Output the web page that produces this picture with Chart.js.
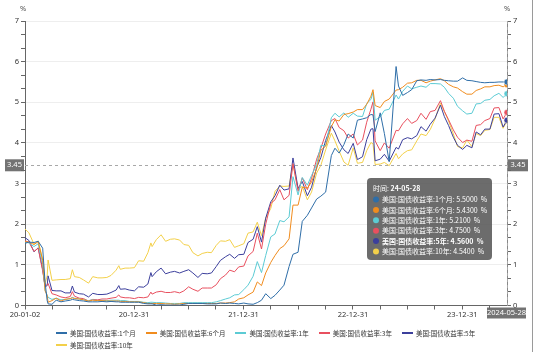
<!DOCTYPE html>
<html>
<head>
<meta charset="utf-8">
<title>美国国债收益率</title>
<script src="https://cdn.jsdelivr.net/npm/chart.js"></script>
<style>
    body {
        margin: 0;
        background-color: #ffffff;
        font-family: "Noto Sans CJK SC", "Noto Sans", sans-serif;
    }
    #wrap {
        position: relative;
        width: 550px;
        height: 360px;
    }
    #edge {
        position: absolute;
        left: 532px;
        top: 0;
        width: 1px;
        height: 352px;
        background-color: #9a9a9a;
    }
    #legend {
        position: absolute;
        left: 56px;
        top: 327px;
        width: 440px;
        display: flex;
        flex-wrap: wrap;
        column-gap: 10px;
        font-size: 6.5px;
        line-height: 12px;
        color: #333;
    }
    #legend .item {
        display: flex;
        align-items: center;
        white-space: nowrap;
    }
    #legend .swatch {
        width: 11px;
        height: 2px;
        margin-right: 3px;
    }
</style>
</head>
<body>
<div id="wrap">
    <canvas id="chart" width="550" height="360"></canvas>
    <div id="edge"></div>
    <div id="legend"></div>
</div>
<script>
var dates = [
    '2020-01-02','2020-01-15','2020-02-01','2020-02-15','2020-03-01','2020-03-09','2020-03-16','2020-03-19','2020-04-01','2020-04-15',
    '2020-05-01','2020-05-15','2020-06-01','2020-06-08','2020-06-15','2020-07-01','2020-07-15','2020-08-01','2020-08-15','2020-09-01',
    '2020-09-15','2020-10-01','2020-10-15','2020-11-01','2020-11-10','2020-11-15','2020-12-01','2020-12-15',
    '2021-01-01','2021-01-15','2021-02-01','2021-02-15','2021-02-25','2021-03-01','2021-03-15','2021-03-31','2021-04-15','2021-05-01',
    '2021-05-15','2021-06-01','2021-06-15','2021-07-01','2021-07-15','2021-08-01','2021-08-15','2021-09-01','2021-09-15','2021-10-01',
    '2021-10-15','2021-11-01','2021-11-15','2021-12-01','2021-12-15',
    '2022-01-01','2022-01-15','2022-02-01','2022-02-15','2022-03-01','2022-03-15','2022-04-01','2022-04-15','2022-05-01','2022-05-15',
    '2022-06-01','2022-06-14','2022-07-01','2022-07-15','2022-08-01','2022-08-15','2022-09-01','2022-09-15','2022-10-01','2022-10-20',
    '2022-11-01','2022-11-15','2022-12-01','2022-12-15',
    '2023-01-01','2023-01-15','2023-02-01','2023-02-15','2023-03-01','2023-03-08','2023-03-15','2023-04-01','2023-04-15','2023-05-01',
    '2023-05-24','2023-06-01','2023-06-15','2023-07-01','2023-07-15','2023-08-01','2023-08-15','2023-09-01','2023-09-15','2023-10-01',
    '2023-10-19','2023-11-01','2023-11-15','2023-12-01','2023-12-15',
    '2024-01-01','2024-01-15','2024-02-01','2024-02-15','2024-03-01','2024-03-15','2024-04-01','2024-04-15','2024-05-01','2024-05-15',
    '2024-05-28'
];

var m1 = [
    1.53,1.56,1.55,1.58,1.41,0.57,0.12,0.04,0.03,0.13,0.09,0.11,0.13,0.15,0.14,0.12,0.11,0.09,0.09,0.09,0.10,0.09,0.10,0.09,0.09,0.08,0.08,0.08,
    0.08,0.08,0.05,0.04,0.04,0.04,0.01,0.02,0.01,0.01,0.01,0.01,0.03,0.05,0.05,0.05,0.05,0.04,0.04,0.04,0.06,0.05,0.06,0.05,0.04,
    0.06,0.04,0.03,0.07,0.13,0.29,0.17,0.25,0.38,0.50,0.96,1.26,1.31,2.07,2.22,2.40,2.62,2.69,2.79,3.69,3.87,3.75,3.96,4.22,
    4.12,4.56,4.59,4.62,4.70,4.69,4.28,4.74,4.23,3.54,5.88,5.40,5.17,5.24,5.31,5.53,5.55,5.54,5.56,5.55,5.56,5.54,5.53,5.52,5.52,
    5.60,5.54,5.53,5.51,5.49,5.48,5.49,5.49,5.50,5.50,5.50
];
var m6 = [
    1.57,1.56,1.50,1.57,1.11,0.36,0.25,0.08,0.12,0.18,0.11,0.15,0.17,0.19,0.17,0.16,0.14,0.11,0.13,0.12,0.12,0.11,0.11,0.11,0.11,0.10,0.10,0.09,
    0.09,0.09,0.07,0.05,0.05,0.05,0.05,0.05,0.04,0.04,0.03,0.04,0.05,0.05,0.05,0.05,0.05,0.05,0.05,0.05,0.06,0.06,0.07,0.09,0.16,
    0.19,0.26,0.33,0.58,0.49,0.80,1.06,1.23,1.40,1.47,1.64,2.47,2.47,2.91,2.89,3.04,3.37,3.82,3.92,4.40,4.57,4.54,4.70,4.72,
    4.76,4.82,4.82,4.95,5.15,5.31,4.92,4.87,5.02,5.08,5.30,5.31,5.37,5.47,5.48,5.54,5.54,5.48,5.52,5.55,5.58,5.53,5.44,5.38,5.35,
    5.26,5.20,5.20,5.29,5.33,5.38,5.38,5.41,5.42,5.38,5.43
];
var y1 = [
    1.56,1.54,1.45,1.52,1.01,0.38,0.25,0.20,0.15,0.18,0.14,0.15,0.17,0.20,0.18,0.16,0.14,0.12,0.14,0.12,0.13,0.12,0.13,0.13,0.13,0.12,0.12,0.10,
    0.10,0.10,0.08,0.07,0.08,0.08,0.07,0.07,0.06,0.05,0.05,0.05,0.07,0.07,0.07,0.07,0.07,0.07,0.07,0.09,0.12,0.16,0.19,0.26,0.27,
    0.39,0.50,0.72,1.08,0.81,1.23,1.69,1.76,2.09,2.06,2.18,3.17,2.72,3.15,2.96,3.20,3.47,3.94,3.93,4.62,4.73,4.64,4.74,4.63,
    4.73,4.66,4.65,4.97,5.07,5.25,4.56,4.64,4.80,4.83,5.18,5.08,5.27,5.40,5.33,5.37,5.40,5.37,5.46,5.46,5.45,5.37,5.22,5.10,4.90,
    4.79,4.71,4.73,4.96,4.97,5.05,5.07,5.16,5.22,5.12,5.21
];
var y3 = [
    1.59,1.56,1.33,1.41,0.85,0.48,0.51,0.54,0.29,0.26,0.21,0.19,0.22,0.34,0.23,0.18,0.17,0.11,0.15,0.14,0.16,0.16,0.18,0.20,0.26,0.21,0.19,0.19,
    0.17,0.20,0.19,0.21,0.33,0.28,0.33,0.35,0.32,0.32,0.34,0.31,0.36,0.46,0.40,0.35,0.43,0.43,0.43,0.51,0.66,0.75,0.87,0.83,0.95,
    0.97,1.22,1.33,1.78,1.39,2.00,2.51,2.60,2.85,2.60,2.71,3.49,2.81,3.14,2.85,3.13,3.60,3.87,4.22,4.55,4.60,4.38,4.30,4.12,
    4.22,3.95,4.07,4.51,4.83,5.01,4.05,3.81,4.00,3.87,4.31,4.30,4.47,4.60,4.48,4.55,4.73,4.58,4.77,4.80,5.04,4.78,4.57,4.32,4.14,
    4.01,4.07,4.04,4.43,4.45,4.55,4.60,4.86,4.87,4.59,4.75
];
var y5 = [
    1.67,1.60,1.32,1.42,0.89,0.46,0.49,0.73,0.37,0.36,0.36,0.31,0.31,0.48,0.33,0.29,0.28,0.21,0.30,0.27,0.27,0.28,0.32,0.38,0.49,0.40,0.41,0.38,
    0.36,0.46,0.45,0.53,0.81,0.71,0.83,0.92,0.78,0.82,0.84,0.80,0.84,0.88,0.80,0.69,0.79,0.78,0.80,0.96,1.11,1.20,1.26,1.16,1.25,
    1.26,1.55,1.63,1.94,1.56,2.15,2.55,2.70,2.96,2.84,2.87,3.63,2.88,3.05,2.70,2.91,3.40,3.64,4.06,4.43,4.27,4.02,3.83,3.74,
    3.99,3.59,3.66,4.08,4.34,4.35,3.56,3.60,3.72,3.55,3.89,3.85,4.08,4.13,4.10,4.18,4.40,4.29,4.46,4.61,4.93,4.65,4.43,4.14,3.94,
    3.84,3.94,3.88,4.27,4.20,4.34,4.34,4.71,4.72,4.39,4.56
];
var y10 = [
    1.88,1.79,1.51,1.59,1.13,0.54,0.73,1.12,0.62,0.63,0.64,0.64,0.66,0.88,0.71,0.69,0.63,0.55,0.71,0.68,0.68,0.69,0.74,0.87,0.98,0.89,0.92,0.92,
    0.93,1.10,1.09,1.30,1.54,1.45,1.62,1.74,1.58,1.63,1.64,1.61,1.50,1.48,1.30,1.22,1.28,1.31,1.30,1.48,1.59,1.58,1.62,1.43,1.47,
    1.52,1.78,1.81,2.05,1.72,2.15,2.39,2.81,2.94,2.93,2.94,3.48,2.88,2.93,2.60,2.79,3.26,3.45,3.83,4.24,4.05,3.80,3.53,3.45,
    3.88,3.50,3.52,3.81,4.01,3.98,3.47,3.48,3.52,3.44,3.74,3.61,3.73,3.81,3.83,4.05,4.22,4.18,4.33,4.59,4.98,4.77,4.54,4.22,3.91,
    3.88,4.07,3.91,4.23,4.18,4.31,4.33,4.63,4.63,4.36,4.54
];

var seriesNames = ['美国:国债收益率:1个月', '美国:国债收益率:6个月', '美国:国债收益率:1年',
                   '美国:国债收益率:3年', '美国:国债收益率:5年', '美国:国债收益率:10年'];
var seriesColors = ['#2f6ea8', '#f08c1e', '#5ccbd4', '#e8505f', '#3c3f9c', '#f3d04a'];
var seriesValues = [m1, m6, y1, y3, y5, y10];

var labelDates = ['2020-01-02', '2020-12-31', '2021-12-31', '2022-12-31', '2023-12-31'];
var pointerValue = 3.45;
var tooltipTitle = '24-05-28';
var endLabel = '2024-05-28';

function dayOf(s) {
    var p = s.split('-');
    return (Date.UTC(+p[0], p[1] - 1, +p[2]) - Date.UTC(2020, 0, 2)) / 86400000;
}
function pad(n) { return n < 10 ? '0' + n : '' + n; }
function fmtDay(d) {
    var t = new Date(Date.UTC(2020, 0, 2) + d * 86400000);
    return String(t.getUTCFullYear()).slice(2) + '-' + pad(t.getUTCMonth() + 1) + '-' + pad(t.getUTCDate());
}

var lastDay = dayOf(dates[dates.length - 1]);
var labelDays = labelDates.map(dayOf);
var xTickDays = [];
labelDays.forEach(function(d) {
    [0, 91, 182, 273].forEach(function(q) {
        if (d + q < lastDay) xTickDays.push(d + q);
    });
});

var yTickVals = [];
for (var i = 0; i <= 21; i++) yTickVals.push(i / 3);
function isInt(v) { return Math.abs(v - Math.round(v)) < 1e-6; }

// legend in html
var legend = document.getElementById('legend');
seriesNames.forEach(function(name, i) {
    var item = document.createElement('div');
    item.className = 'item';
    var sw = document.createElement('span');
    sw.className = 'swatch';
    sw.style.backgroundColor = seriesColors[i];
    var tx = document.createElement('span');
    tx.innerText = name;
    item.appendChild(sw);
    item.appendChild(tx);
    legend.appendChild(item);
});

var datasets = seriesValues.map(function(vals, i) {
    return {
        label: seriesNames[i],
        data: dates.map(function(d, j) { return { x: dayOf(d), y: vals[j] }; }),
        borderColor: seriesColors[i],
        backgroundColor: seriesColors[i],
        borderWidth: 1,
        tension: 0,
        pointRadius: function(ctx) { return ctx.dataIndex === dates.length - 1 ? 3 : 0; },
        pointBorderColor: '#ffffff',
        pointBorderWidth: 0.5,
        pointHoverRadius: 0
    };
});

var overlay = {
    id: 'overlay',
    afterDraw: function(chart) {
        var c = chart.ctx;
        var a = chart.chartArea;
        var ys = chart.scales.y;
        var xs = chart.scales.x;
        var py = ys.getPixelForValue(pointerValue);
        var px = xs.getPixelForValue(lastDay);

        c.save();
        // crosshair
        c.strokeStyle = '#a8a8a8';
        c.lineWidth = 1;
        c.setLineDash([3, 3]);
        c.beginPath();
        c.moveTo(a.left, Math.round(py) + 0.5);
        c.lineTo(a.right, Math.round(py) + 0.5);
        c.moveTo(Math.round(px) + 0.5, a.top);
        c.lineTo(Math.round(px) + 0.5, a.bottom);
        c.stroke();
        c.setLineDash([]);

        // axis pointer labels
        c.font = '7.5px "Noto Sans", sans-serif';
        c.textBaseline = 'middle';
        c.textAlign = 'center';
        c.fillStyle = 'rgba(100,100,100,0.9)';
        c.fillRect(5, py - 6, 19, 12);
        c.fillRect(508, py - 6, 20, 12);
        c.fillRect(px - 20, a.bottom + 2, 39, 11);
        c.fillStyle = '#ffffff';
        c.fillText(pointerValue.toFixed(2), 14.5, py);
        c.fillText(pointerValue.toFixed(2), 518, py);
        c.fillText(endLabel, px - 0.5, a.bottom + 7.5);

        // % units
        c.fillStyle = '#555';
        c.fillText('%', 23, 9);
        c.fillText('%', 507, 9);

        // tooltip
        var tx = 367, ty = 178, tw = 125, th = 82;
        c.fillStyle = 'rgba(88,88,88,0.88)';
        c.beginPath();
        c.roundRect(tx, ty, tw, th, 4);
        c.fill();
        c.textAlign = 'left';
        c.fillStyle = '#ffffff';
        c.font = '7px "Noto Sans CJK SC", sans-serif';
        c.fillText('时间: ', tx + 6, ty + 10);
        var w0 = c.measureText('时间: ').width;
        c.font = 'bold 7px "Noto Sans CJK SC", sans-serif';
        c.fillText(tooltipTitle, tx + 6 + w0, ty + 10);
        var last = dates.length - 1;
        seriesNames.forEach(function(name, i) {
            var ly = ty + 21.5 + i * 10.4;
            c.fillStyle = seriesColors[i];
            c.beginPath();
            c.arc(tx + 9, ly, 3, 0, Math.PI * 2);
            c.fill();
            c.fillStyle = '#ffffff';
            c.font = (i === 4 ? 'bold ' : '') + '7px "Noto Sans CJK SC", sans-serif';
            c.fillText(name + ': ' + seriesValues[i][last].toFixed(4) + '  %', tx + 15, ly);
        });
        c.restore();
    }
};

var tickFont = { size: 7.5, family: '"Noto Sans", sans-serif' };

new Chart(document.getElementById('chart').getContext('2d'), {
    type: 'line',
    data: { datasets: datasets },
    options: {
        responsive: false,
        animation: false,
        layout: { padding: { top: 21, bottom: 36.5, left: 0, right: 0 } },
        plugins: {
            legend: { display: false },
            tooltip: { enabled: false }
        },
        scales: {
            x: {
                type: 'linear',
                min: 0,
                max: lastDay,
                afterBuildTicks: function(scale) {
                    scale.ticks = xTickDays.map(function(v) { return { value: v }; });
                },
                afterFit: function(scale) { scale.height = 18; },
                ticks: {
                    autoSkip: false,
                    maxRotation: 0,
                    padding: 1,
                    color: '#333',
                    font: tickFont,
                    callback: function(v) { return labelDays.indexOf(v) >= 0 ? fmtDay(v) : ''; }
                },
                grid: { drawOnChartArea: false, tickLength: 4, tickColor: '#666' },
                border: { color: '#666' }
            },
            y: {
                position: 'left',
                min: 0,
                max: 7,
                afterBuildTicks: function(scale) {
                    scale.ticks = yTickVals.map(function(v) { return { value: v }; });
                },
                afterFit: function(scale) { scale.width = 25; },
                ticks: {
                    autoSkip: false,
                    padding: 2,
                    color: '#333',
                    font: tickFont,
                    callback: function(v) { return isInt(v) ? String(Math.round(v)) : ''; }
                },
                grid: {
                    tickLength: 4,
                    tickColor: '#666',
                    color: function(ctx) { return ctx.tick && isInt(ctx.tick.value) ? '#eeeeee' : 'rgba(0,0,0,0)'; }
                },
                border: { color: '#666' }
            },
            y2: {
                position: 'right',
                min: 0,
                max: 7,
                afterBuildTicks: function(scale) {
                    scale.ticks = yTickVals.map(function(v) { return { value: v }; });
                },
                afterFit: function(scale) { scale.width = 43; },
                ticks: {
                    autoSkip: false,
                    padding: 2,
                    color: '#333',
                    font: tickFont,
                    callback: function(v) { return isInt(v) ? String(Math.round(v)) : ''; }
                },
                grid: { drawOnChartArea: false, tickLength: 4, tickColor: '#666' },
                border: { color: '#888', dash: [2, 2] }
            }
        }
    },
    plugins: [overlay]
});
</script>
</body>
</html>
